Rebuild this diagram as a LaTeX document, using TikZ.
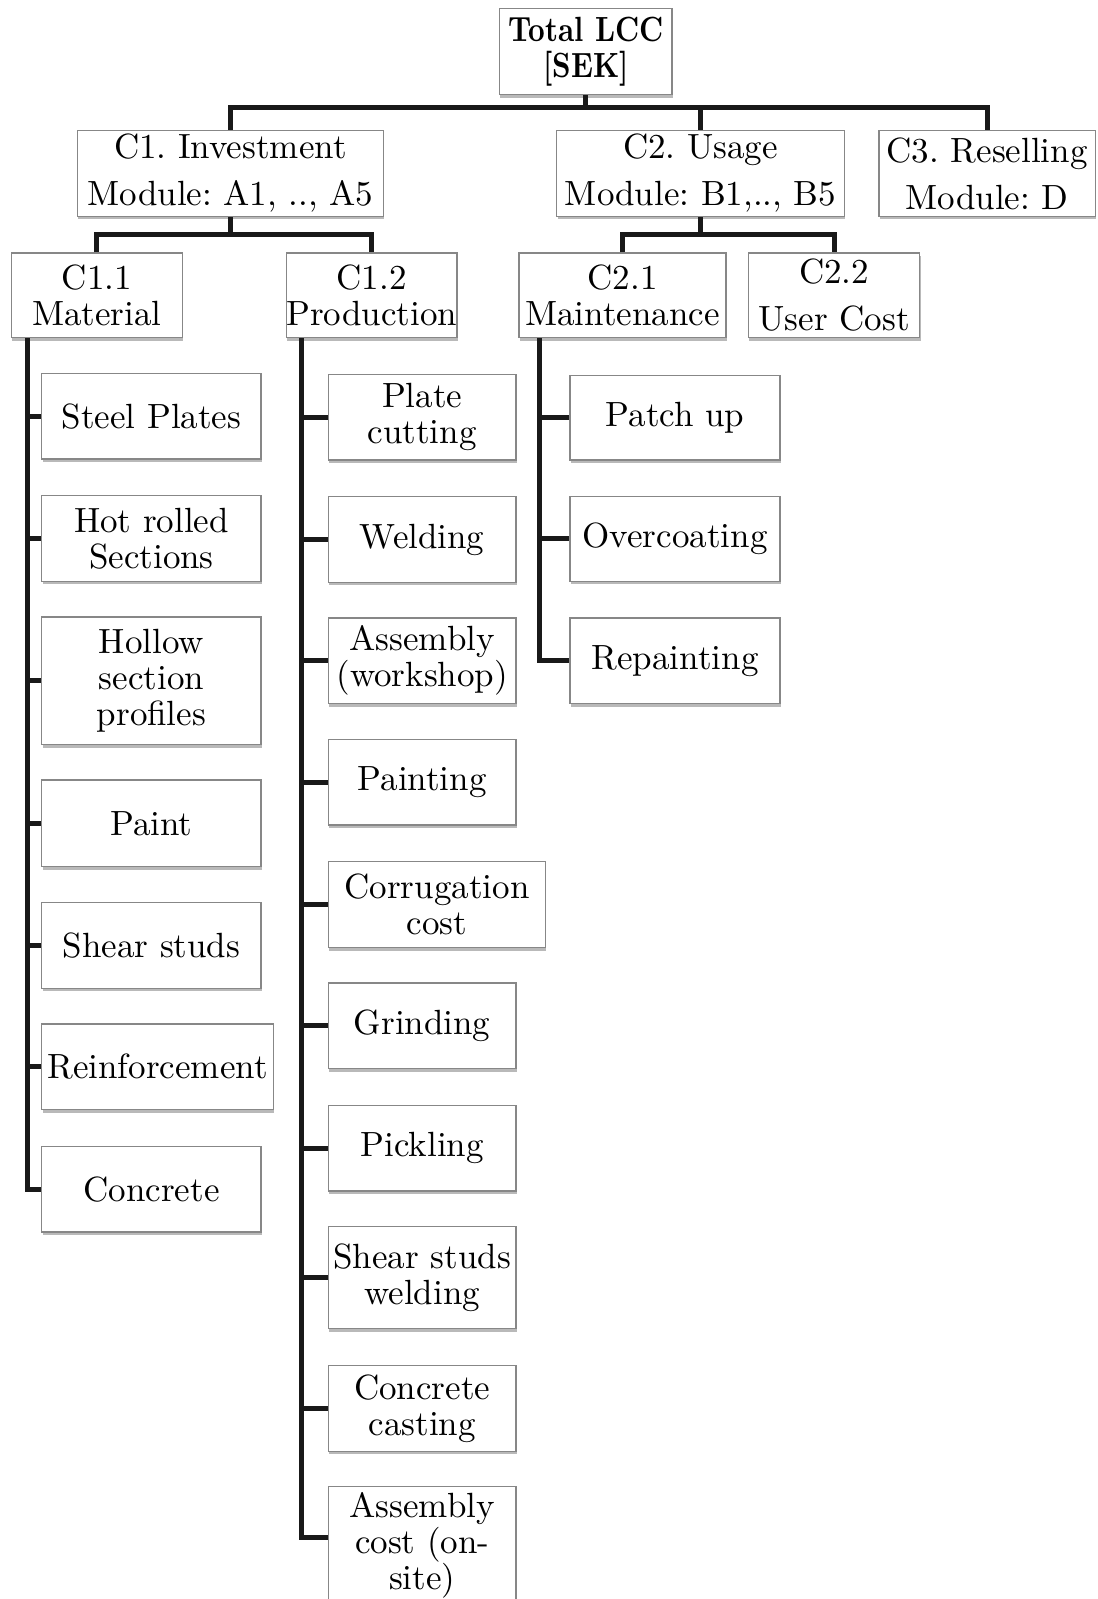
\documentclass[tikz,border=0pt]{standalone}
\usepackage{fontspec}
\setmainfont{lmroman10-regular}[Extension=.otf, BoldFont=lmroman10-bold]
\usetikzlibrary{shadows,calc}
\definecolor{boxgray}{RGB}{135,135,135}
\newcommand\bx[6]{\node[box, minimum width={(#4-#2)*1.0195pt}, minimum height={(#5-#3)*1.0195pt}] (#1) at ({(#2+#4)/2},{(#3+#5)/2}) {#6};}
\begin{document}
\frenchspacing
\begin{tikzpicture}[x=1.0195pt,y=-1.0195pt,
  box/.style={draw=boxgray, line width=1.3pt, fill=white, inner sep=0pt, align=center,
    font=\fontsize{35}{36}\selectfont\frenchspacing,
    drop shadow={shadow xshift=0.8pt, shadow yshift=-3.2pt, fill=black!50, opacity=0.55}},
  conn/.style={line width=5pt, black!90, line join=miter}]
\useasboundingbox (0,0) rectangle (1076,1568);
\fill[white] (0,0) rectangle (1076,1568);

% top level
\bx{root}{490}{8}{659}{93}{\scalebox{0.83}[1]{\bfseries Total LCC}\\\scalebox{0.83}[1]{\bfseries [SEK]}}
\bx{c1}{76}{128}{376}{212}{C1. Investment\\[11pt]Module: A1, .., A5}
\bx{c2}{546}{128}{828}{212}{C2. Usage\\[11pt]Module: B1,.., B5}
\bx{c3}{862}{128}{1074}{212}{C3. Reselling\\[11pt]Module: D}

\bx{c11}{11}{248}{179}{331}{C1.1\\Material}
\bx{c12}{281}{248}{448}{331}{C1.2\\Production}
\bx{c21}{509}{248}{712}{331}{C2.1\\Maintenance}
\bx{c22}{734}{248}{902}{331}{C2.2\\[11pt]User Cost}

% column 1
\bx{steel}{41}{366}{256}{450}{Steel Plates}
\bx{hot}{41}{486}{256}{570}{Hot rolled\\Sections}
\bx{hollow}{41}{605}{256}{730}{Hollow\\section\\profiles}
\bx{paint}{41}{765}{256}{850}{Paint}
\bx{shear}{41}{885}{256}{969}{Shear studs}
\bx{reinf}{41}{1004}{268}{1088}{Reinforcement}
\bx{concrete}{41}{1124}{256}{1208}{Concrete}

% column 2
\bx{plate}{322}{367}{506}{451}{Plate\\cutting}
\bx{weld}{322}{487}{506}{571}{Welding}
\bx{assem}{322}{606}{506}{690}{Assembly\\(workshop)}
\bx{painting}{322}{725}{506}{809}{Painting}
\bx{corr}{322}{845}{535}{929}{Corrugation\\cost}
\bx{grind}{322}{964}{506}{1048}{Grinding}
\bx{pick}{322}{1084}{506}{1168}{Pickling}
\bx{ssw}{322}{1203}{506}{1303}{Shear studs\\welding}
\bx{cc}{322}{1339}{506}{1423}{Concrete\\casting}
\bx{ac}{322}{1458}{506}{1572}{Assembly\\cost (on-\\site)}

% column 3
\bx{patch}{559}{368}{765}{451}{Patch up}
\bx{over}{559}{487}{765}{570}{Overcoating}
\bx{repaint}{559}{606}{765}{690}{Repainting}

% buses
\coordinate (b0) at (0,105);
\coordinate (b1) at (0,230);
\draw[conn] (root.south) -- (root.south |- b0);
\draw[conn] (c1.north) |- (c3.north |- b0) -- (c3.north);
\draw[conn] (c2.north) -- (c2.north |- b0);
\draw[conn] (c1.south) -- (c1.south |- b1);
\draw[conn] (c11.north) |- (c12.north |- b1) -- (c12.north);
\draw[conn] (c2.south) -- (c2.south |- b1);
\draw[conn] (c21.north) |- (c22.north |- b1) -- (c22.north);

% spines
\coordinate (s1) at ([xshift=16.8pt]c11.south west);
\coordinate (s2) at ([xshift=16.3pt]c12.south west);
\coordinate (s3) at ([xshift=21.4pt]c21.south west);
\draw[conn] (s1) |- (concrete.west);
\foreach \n in {steel,hot,hollow,paint,shear,reinf}
  \draw[conn] (\n.west -| s1) -- (\n.west);
\draw[conn] (s2) |- ([yshift=7pt]ac.west);
\foreach \n in {plate,weld,assem,painting,corr,grind,pick,ssw,cc}
  \draw[conn] (\n.west -| s2) -- (\n.west);
\draw[conn] (s3) |- (repaint.west);
\foreach \n in {patch,over}
  \draw[conn] (\n.west -| s3) -- (\n.west);
\end{tikzpicture}
\end{document}
